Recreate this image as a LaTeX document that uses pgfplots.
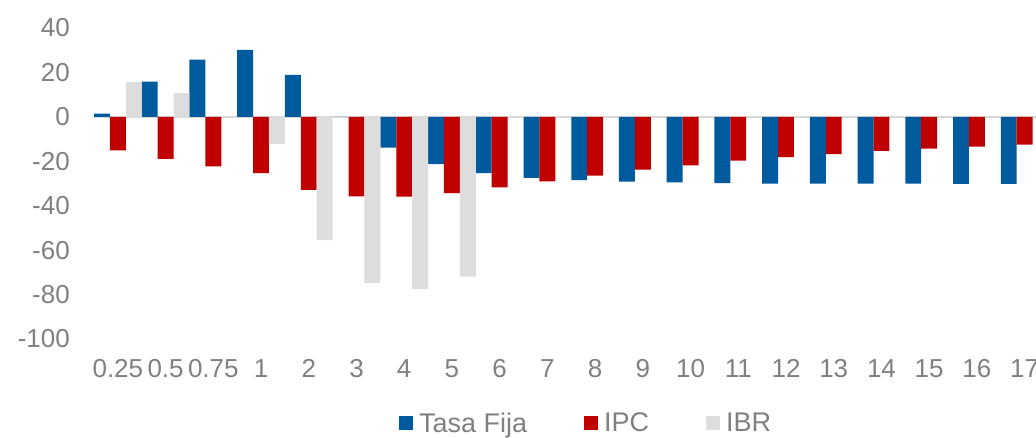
\documentclass[border=0pt]{standalone}
\usepackage{fontspec}
\setmainfont{Liberation Sans}
\usepackage{pgfplots}
\pgfplotsset{compat=1.18}
\definecolor{cblue}{RGB}{0,90,158}
\definecolor{cred}{RGB}{192,0,0}
\definecolor{cgray}{RGB}{221,221,221}
\definecolor{ctext}{RGB}{128,128,128}
\definecolor{cline}{RGB}{217,217,217}
\pgfplotsset{sqlegend/.style={legend image code/.code={\fill[##1] (0pt,-7pt) rectangle (14pt,7pt);}}}
\begin{document}
\begin{tikzpicture}[x=1pt,y=1pt]
\path[use as bounding box] (0,0) rectangle (1036,437);
\begin{axis}[
  at={(94pt,98pt)}, anchor=south west,
  scale only axis, width=954.5pt, height=311pt,
  xmin=-0.5, xmax=19.5, ymin=-100, ymax=40,
  ybar=0pt, bar width=15.9pt,
  axis line style={draw=none},
  major tick length=0pt,
  xtick={0,...,19},
  xticklabels={0.25,0.5,0.75,1,2,3,4,5,6,7,8,9,10,11,12,13,14,15,16,17},
  ytick={-100,-80,-60,-40,-20,0,20,40},
  yticklabels={-100,-80,-60,-40,-20,0,20,40},
  extra y ticks={0}, extra y tick labels={},
  extra y tick style={grid=major, major grid style={draw=cline, line width=1.3pt}},
  tick label style={font=\fontsize{26}{31}\selectfont, text=ctext},
  yticklabel style={anchor=east, inner sep=0pt, xshift=-24pt},
  xticklabel style={anchor=north, inner sep=0pt, yshift=-20pt},
  legend style={at={(0.3195,-0.270)}, anchor=west, draw=none, fill=none,
    legend columns=-1, inner sep=0pt, font=\fontsize{27}{32}\selectfont, text=ctext,
    nodes={inner sep=0pt},
    /tikz/every odd column/.append style={column sep=6pt},
    /tikz/every even column/.append style={column sep=57pt}},
]
\addplot[fill=cblue, draw=none, sqlegend] coordinates {
(0,1.5) (1,15.9) (2,25.8) (3,30.2) (4,18.9) (5,0) (6,-13.8) (7,-21.3) (8,-25.3) (9,-27.5)
(10,-28.5) (11,-29.2) (12,-29.5) (13,-29.8) (14,-30.0) (15,-30.1) (16,-30.1) (17,-30.1) (18,-30.2) (19,-30.2)};
\addplot[fill=cred, draw=none, sqlegend] coordinates {
(0,-15.1) (1,-18.9) (2,-22.3) (3,-25.3) (4,-32.9) (5,-35.8) (6,-35.9) (7,-34.3) (8,-31.8) (9,-29.0)
(10,-26.4) (11,-23.8) (12,-21.8) (13,-19.7) (14,-18.1) (15,-16.8) (16,-15.3) (17,-14.3) (18,-13.4) (19,-12.5)};
\addplot[fill=cgray, draw=none, sqlegend] coordinates {
(0,15.6) (1,10.7) (2,0) (3,-12.2) (4,-55.5) (5,-74.7) (6,-77.4) (7,-71.9) (8,0) (9,0)
(10,0) (11,0) (12,0) (13,0) (14,0) (15,0) (16,0) (17,0) (18,0) (19,0)};
\legend{Tasa Fija,IPC,IBR}
\end{axis}
\end{tikzpicture}
\end{document}
